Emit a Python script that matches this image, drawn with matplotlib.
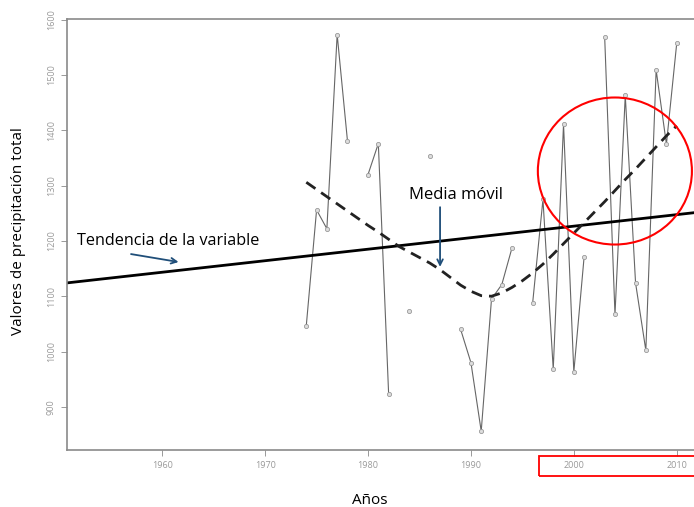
import numpy as np
import matplotlib
matplotlib.use("Agg")
import matplotlib.pyplot as plt
from matplotlib.patches import Ellipse, Rectangle

# annual precipitation (NaN = missing year)
years = list(range(1974, 2011))
precip = [1047, 1256, 1222, 1573, 1381, np.nan, 1320, 1376, 924, np.nan,
          1073, np.nan, 1353, np.nan, np.nan, 1040, 980, 856, 1095, 1121,
          1188, np.nan, 1088, 1275, 968, 1411, 963, 1171, np.nan, 1568,
          1067, 1463, 1124, 1002, 1509, 1375, 1557]

# moving average (smoothed)
mm_values = [1306, 1293, 1280, 1267, 1254, 1241, 1228, 1216, 1203, 1190,
             1180, 1170, 1160, 1148, 1134, 1120, 1109, 1101, 1100, 1106,
             1116, 1128, 1142, 1158, 1176, 1195, 1214, 1233, 1252, 1271,
             1291, 1311, 1330, 1350, 1370, 1390, 1408]

# linear trend
trend_years = [1950.7, 2011.7]
trend_values = [1124, 1251]

xticks = [1960, 1970, 1980, 1990, 2000, 2010]
yticks = [900, 1000, 1100, 1200, 1300, 1400, 1500, 1600]

plt.rcParams['font.family'] = ['Open Sans', 'DejaVu Sans']

fig = plt.figure(figsize=(6.94, 5.07), dpi=100)
ax = fig.add_axes([0.0965, 0.1124, 0.9035, 0.85])

ax.plot(years, precip, '-', color='#666666', linewidth=0.8,
        marker='o', markersize=3, markerfacecolor='#dddddd',
        markeredgecolor='#999999', markeredgewidth=0.6)
ax.plot(trend_years, trend_values, '-', color='black', linewidth=2)
ax.plot(years, mm_values, '--', color='#222222', linewidth=2, dashes=(4, 2.5))

ax.set_xlim(1950.74, 2011.68)
ax.set_ylim(822, 1601)
ax.set_xticks(xticks)
ax.set_yticks(yticks)
ax.tick_params(axis='both', colors='#999999', labelsize=6.5, length=4, width=0.7)
ax.tick_params(axis='x', pad=4)
ax.tick_params(axis='y', pad=4)
for lab in ax.get_yticklabels():
    lab.set_rotation(90)
    lab.set_va('center')
for side in ['left', 'bottom', 'top']:
    ax.spines[side].set_color('#8a8a8a')
    ax.spines[side].set_linewidth(1.2)
ax.spines['right'].set_visible(False)

fig.text(19 / 694, 1 - 231 / 507, 'Valores de precipitación total', fontsize=11,
         rotation=90, ha='center', va='center')
fig.text(370 / 694, 1 - 500 / 507, 'Años', fontsize=11, ha='center', va='center')

arrow_col = '#1f4e79'
ax.annotate('', xy=(1961.85, 1161), xytext=(1956.7, 1177),
            arrowprops=dict(arrowstyle='->', color=arrow_col, lw=1.3))
fig.text(0.111, 0.525, 'Tendencia de la variable', fontsize=11.6, va='center')
fig.text(0.589, 0.615, 'Media móvil', fontsize=12, va='center')
ax.annotate('', xy=(1987.0, 1148), xytext=(1987.0, 1266),
            arrowprops=dict(arrowstyle='->', color=arrow_col, lw=1.3))

fig.add_artist(Ellipse((0.886, 0.6627), 0.222, 0.29, transform=fig.transFigure,
                       fill=False, edgecolor='red', linewidth=1.5))
fig.add_artist(Rectangle((0.7767, 0.0611), 0.24, 0.0394, transform=fig.transFigure,
                         fill=False, edgecolor='red', linewidth=1.3))

fig.savefig('out.png', dpi=100)
